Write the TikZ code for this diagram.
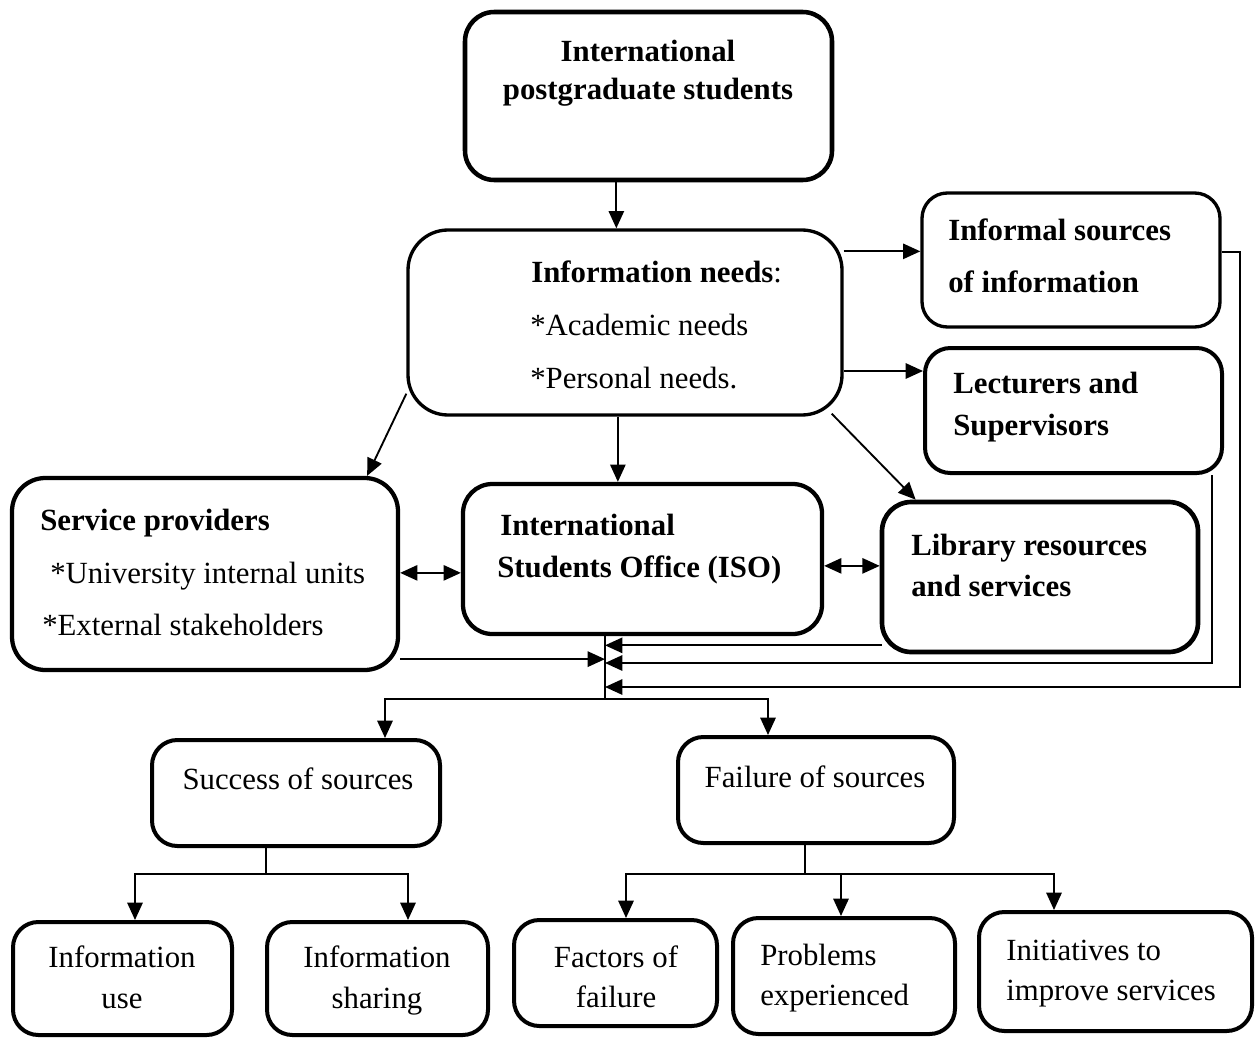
\documentclass[tikz,border=0pt]{standalone}
\usepackage{fontspec}
\setmainfont{Liberation Serif}
\usetikzlibrary{arrows.meta,fit,calc}

\begin{document}
\begin{tikzpicture}[x=0.75pt,y=-0.75pt,
  box/.style={draw, rounded corners=20pt, inner sep=0pt, line width=3pt},
  txt/.style={inner sep=0pt, font=\fontsize{23.1}{28}\selectfont},
  bt/.style={inner sep=0pt, font=\fontsize{23.1}{28}\selectfont\bfseries},
  tip/.tip={Triangle[length=13pt,width=11.5pt]},
  ln/.style={line width=1.4pt},
  arr/.style={ln, -tip},
  dbl/.style={ln, tip-tip},
]
\useasboundingbox (0,0) rectangle (1255,1038);

% ---------- boxes ----------
\node[box, line width=3.4pt, rounded corners=22pt, fit={(465,12) (832,180)}] (stud) {};
\node[box, line width=2.5pt, rounded corners=30pt, fit={(408,230) (842,415)}] (needs) {};
\node[box, line width=2.5pt, rounded corners=19pt, fit={(922,193) (1220,327)}] (inf) {};
\node[box, line width=3pt, rounded corners=19pt, fit={(925,348) (1222,473)}] (lec) {};
\node[box, line width=3.2pt, rounded corners=25pt, fit={(12,478) (398,670)}] (sp) {};
\node[box, line width=3.2pt, rounded corners=22pt, fit={(463,484) (822,634)}] (iso) {};
\node[box, line width=3.5pt, rounded corners=22pt, fit={(882,502) (1198,652)}] (lib) {};
\node[box, rounded corners=19pt, fit={(152,740) (440,846)}] (succ) {};
\node[box, rounded corners=19pt, fit={(678,737) (954,843)}] (fail) {};
\node[box, rounded corners=19pt, fit={(13,922) (232,1035)}] (use) {};
\node[box, rounded corners=19pt, fit={(267,922) (488,1035)}] (share) {};
\node[box, rounded corners=19pt, fit={(514,920) (717,1026)}] (fact) {};
\node[box, rounded corners=19pt, fit={(733,918) (955,1034)}] (prob) {};
\node[box, rounded corners=19pt, fit={(979,912) (1252,1031)}] (init) {};

% ---------- texts ----------
\node[bt, anchor=base] (stud1) at (648,62) {International};
\node[bt, anchor=base] (stud2) at (648,100) {postgraduate students};

\node[txt, anchor=base west] (needs1) at (531,282) {{\bfseries Information needs}:};
\node[txt, anchor=base west] (needs2) at (530,335) {*Academic needs};
\node[txt, anchor=base west] (needs3) at (530,388) {*Personal needs.};

\node[bt, anchor=base west] (inf1) at (948,240) {Informal sources};
\node[bt, anchor=base west] (inf2) at (948,292) {of information};

\node[bt, anchor=base west] (lec1) at (953,393) {Lecturers and};
\node[bt, anchor=base west] (lec2) at (953,435) {Supervisors};

\node[bt, anchor=base west] (sp1) at (40,530) {Service providers};
\node[txt, anchor=base west] (sp2) at (50,583) {*University internal units};
\node[txt, anchor=base west] (sp3) at (42,635) {*External stakeholders};

\node[bt, anchor=base west] (iso1) at (500,535) {International};
\node[bt, anchor=base west] (iso2) at (497,577) {Students Office (ISO)};

\node[bt, anchor=base west] (lib1) at (911,555) {Library resources};
\node[bt, anchor=base west] (lib2) at (911,596) {and services};

\node[txt, anchor=base] (succ1) at (298,789) {Success of sources};
\node[txt, anchor=base] (fail1) at (815,787) {Failure of sources};

\node[txt, anchor=base] (use1) at (122,967) {Information};
\node[txt, anchor=base] (use2) at (122,1008) {use};
\node[txt, anchor=base] (share1) at (377,967) {Information};
\node[txt, anchor=base] (share2) at (377,1008) {sharing};
\node[txt, anchor=base] (fact1) at (616,967) {Factors of};
\node[txt, anchor=base] (fact2) at (616,1007) {failure};
\node[txt, anchor=base west] (prob1) at (760,965) {Problems};
\node[txt, anchor=base west] (prob2) at (760,1005) {experienced};
\node[txt, anchor=base west] (init1) at (1006,960) {Initiatives to};
\node[txt, anchor=base west] (init2) at (1006,1000) {improve services};

% ---------- connector anchor points ----------
\coordinate (toneeds) at ($(needs.north west)+(210,0)$);
\coordinate (toiso)   at ($(iso.north west)+(157,0)$);
\coordinate (toinf)   at ($(inf.north west)+(0,60)$);
\coordinate (tolec)   at ($(lec.north west)+(0,25)$);
\coordinate (spiso)   at ($(sp.north east)+(0,97)$);
\coordinate (isolib)  at ($(iso.north east)+(0,84)$);
\coordinate (hub)     at (605,699);
\coordinate (spout)   at ($(sp.south east)+(0,-13)$);
\coordinate (libout)  at ($(lib.south west)+(2,-9)$);
\coordinate (lecout)  at ($(lec.south east)+(-12,0)$);
\coordinate (infout)  at ($(inf.north east)+(0,61)$);
\coordinate (tosucc)  at ($(succ.north west)+(235,0)$);
\coordinate (tofail)  at ($(fail.north west)+(92,0)$);
\coordinate (sb)      at ($(succ.south west)+(116,26)$);
\coordinate (fb)      at ($(fail.south west)+(129,29)$);
\coordinate (touse)   at ($(use.north west)+(124,0)$);
\coordinate (toshare) at ($(share.north west)+(143,0)$);
\coordinate (tofact)  at ($(fact.north west)+(114,0)$);
\coordinate (toprob)  at ($(prob.north west)+(110,0)$);
\coordinate (toinit)  at ($(init.north west)+(77,0)$);

% ---------- connectors ----------
\draw[arr] (stud.south -| toneeds) -- (toneeds);
\draw[arr] (needs.east |- toinf) -- (toinf);
\draw[arr] (needs.east |- tolec) -- (tolec);
\draw[arr] (needs.south -| toiso) -- (toiso);
\draw[arr] ($(needs.south east)+(-12,-3)$) -- ($(lib.north west)+(36,0)$);
\draw[arr] ($(needs.south west)+(0,-23)$) -- ($(sp.north east)+(-33,0)$);
\draw[dbl] (spiso) -- (spiso -| iso.west);
\draw[dbl] (isolib) -- (isolib -| lib.west);

% gathering line below the office
\draw[ln] (iso.south -| hub) -- (hub);
\draw[arr] (spout) -- (spout -| hub);
\draw[arr] (libout) -- (libout -| hub);
\draw[arr] (lecout) |- ($(hub)+(0,-36)$);
\draw[arr] (infout) -- ++(18,0) |- ($(hub)+(0,-12)$);
\draw[arr] (hub) -| (tosucc);
\draw[arr] (hub) -| (tofail);

% outcome branches
\draw[ln] (succ.south -| sb) -- (sb);
\draw[arr] (sb) -| (touse);
\draw[arr] (sb) -| (toshare);
\draw[ln] (fail.south -| fb) -- (fb);
\draw[arr] (fb) -| (tofact);
\draw[arr] (fb) -| (toprob);
\draw[arr] (fb) -| (toinit);
\end{tikzpicture}
\end{document}
